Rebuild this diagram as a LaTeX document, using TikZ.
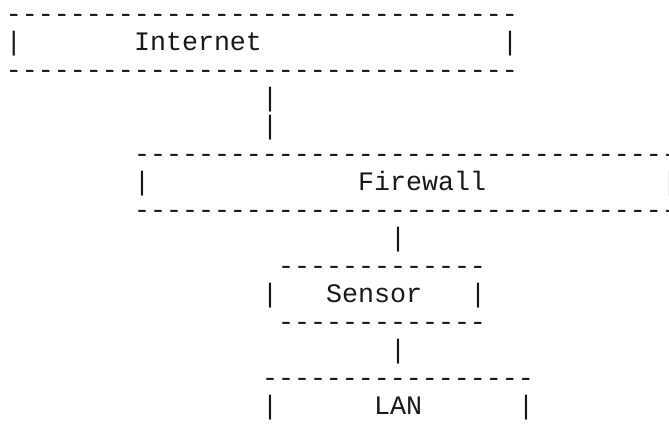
\documentclass[tikz,border=0pt]{standalone}
\usepackage{fontspec}
\setmonofont{Liberation Mono}
\begin{document}
\begin{tikzpicture}[x={(0.75pt,0)},y={(0,-0.75pt)},
  asc/.style={anchor=base west,inner sep=0pt,outer sep=0pt,text=black!90,
    font=\ttfamily\fontsize{20}{21}\selectfont}]
\useasboundingbox (0,0) rectangle (669,430);
\clip (0,0) rectangle (669,430);
% column c -> x = 6+16c ; row r -> baseline y = 22+28r
% Internet box
\node[asc] (inetTop) at (6,22) {--------------------------------};
\node[asc] (inetL) at (6,50) {|};
\node[asc] (inet) at (134,50) {Internet};
\node[asc] (inetR) at (502,50) {|};
\node[asc] (inetBot) at (6,78) {--------------------------------};
% link Internet -> Firewall
\node[asc] (link1a) at (262,106) {|};
\node[asc] (link1b) at (262,134) {|};
% Firewall box
\node[asc] (fwTop) at (134,162) {----------------------------------};
\node[asc] (fwL) at (134,190) {|};
\node[asc] (fw) at (358,190) {Firewall};
\node[asc] (fwR) at (662,190) {|};
\node[asc] (fwBot) at (134,218) {----------------------------------};
% link Firewall -> Sensor
\node[asc] (link2) at (390,246) {|};
% Sensor box
\node[asc] (snTop) at (278,274) {-------------};
\node[asc] (snL) at (262,302) {|};
\node[asc] (sn) at (326,302) {Sensor};
\node[asc] (snR) at (470,302) {|};
\node[asc] (snBot) at (278,330) {-------------};
% link Sensor -> LAN
\node[asc] (link3) at (390,358) {|};
% LAN box
\node[asc] (lanTop) at (262,386) {-----------------};
\node[asc] (lanL) at (262,414) {|};
\node[asc] (lan) at (374,414) {LAN};
\node[asc] (lanR) at (518,414) {|};
\end{tikzpicture}
\end{document}
